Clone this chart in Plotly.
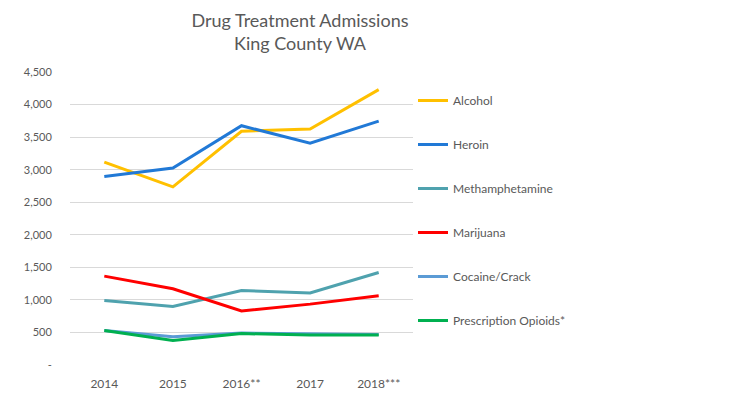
import plotly.graph_objects as go

years = ["2014", "2015", "2016**", "2017", "2018***"]
series_names = ["Alcohol", "Heroin", "Methamphetamine", "Marijuana", "Cocaine/Crack", "Prescription Opioids*"]
alcohol = [3115, 2735, 3590, 3625, 4230]
heroin = [2895, 3025, 3675, 3405, 3745]
meth = [990, 900, 1145, 1105, 1420]
marijuana = [1365, 1170, 830, 935, 1065]
cocaine = [530, 435, 490, 480, 468]
opioids = [530, 375, 482, 462, 462]
colors = ["#FFC000", "#2179D6", "#4FA2AE", "#FF0000", "#5B9BD5", "#00B050"]
y_tickvals = [0, 500, 1000, 1500, 2000, 2500, 3000, 3500, 4000, 4500]
y_ticktext = ["-", "500", "1,000", "1,500", "2,000", "2,500", "3,000", "3,500", "4,000", "4,500"]

data = [alcohol, heroin, meth, marijuana, cocaine, opioids]
fig = go.Figure()
for i, (name, vals, col) in enumerate(zip(series_names, data, colors)):
    fig.add_trace(go.Scatter(x=years, y=vals, mode="lines", name=name,
                             legendgroup=str(i),
                             line=dict(color=col, width=3)))

font_family = "Lato, 'Open Sans', sans-serif"
fig.update_layout(
    width=750, height=393,
    margin=dict(l=70, r=336, t=72, b=28),
    paper_bgcolor="white", plot_bgcolor="white",
    title=dict(text="Drug Treatment Admissions<br>King County WA", x=300/750, xanchor="center",
               yref="container", y=1 - 27/393, yanchor="top",
               font=dict(family=font_family, size=18, color="#595959")),
    font=dict(family=font_family, size=12, color="#595959"),
    legend=dict(xref="container", yref="container", x=413/750, y=1 - 86/393,
                xanchor="left", yanchor="top", tracegroupgap=25, maxheight=360,
                font=dict(size=12, color="#595959"), bgcolor="rgba(0,0,0,0)"),
    showlegend=True,
)
fig.update_xaxes(type="category", range=[-0.5, 4.5], showgrid=False, showline=False,
                 zeroline=False, ticks="outside", ticklen=8, tickcolor="rgba(0,0,0,0)",
                 automargin=False, tickfont=dict(size=12, color="#595959"))
fig.update_yaxes(range=[0, 4500], tickvals=y_tickvals, ticktext=y_ticktext,
                 showgrid=True, gridcolor="#D9D9D9", gridwidth=1, zeroline=False,
                 showline=False, ticks="outside", ticklen=15, tickcolor="rgba(0,0,0,0)",
                 automargin=False, tickfont=dict(size=11, color="#595959"))
fig.write_html("out.html", config={"displayModeBar": False},
               post_script="document.body.style.margin='0';")
